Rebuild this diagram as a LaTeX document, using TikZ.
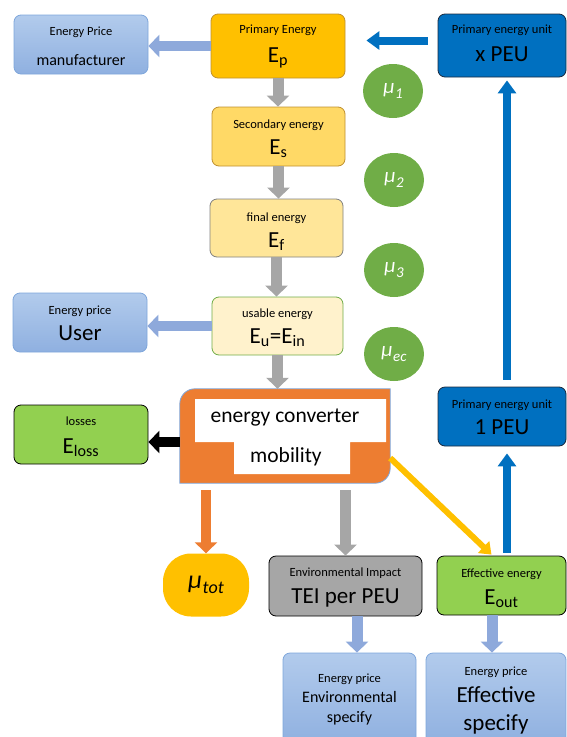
\documentclass[tikz,border=0pt]{standalone}
\usepackage{fontspec}
\setmainfont{Carlito}
\usetikzlibrary{arrows.meta,shapes.geometric}
\definecolor{lbtop}{HTML}{B2CBEC}
\definecolor{lbbot}{HTML}{8FB0E0}
\definecolor{lbbord}{HTML}{7EA6DB}
\definecolor{larrow}{HTML}{8EA9DB}
\definecolor{gold}{HTML}{FFC000}
\definecolor{goldbord}{HTML}{BF9030}
\definecolor{sec}{HTML}{FFD966}
\definecolor{fin}{HTML}{FFE699}
\definecolor{usa}{HTML}{FFF2CC}
\definecolor{usabord}{HTML}{70AD47}
\definecolor{mugreen}{HTML}{70AD47}
\definecolor{pblue}{HTML}{0070C0}
\definecolor{pbord}{HTML}{1B2A3F}
\definecolor{garrow}{HTML}{A6A6A6}
\definecolor{orng}{HTML}{ED7D31}
\definecolor{lgreen}{HTML}{92D050}
\definecolor{gbox}{HTML}{A6A6A6}
\newcommand{\mutxt}[3]{\itshape\fontsize{#1}{#1}\selectfont μ\kern0.5pt\raisebox{-0.2em}{\fontsize{#2}{#2}\selectfont #3}}
\tikzset{
  bx/.style={draw, rounded corners=7pt, line width=0.8pt, inner sep=0pt},
  lb/.style={bx, draw=lbbord, top color=lbtop, bottom color=lbbot},
  sm/.style={inner sep=0pt, anchor=base, font=\fontsize{12.5}{14}\selectfont},
  md/.style={inner sep=0pt, anchor=base, font=\fontsize{16}{18}\selectfont},
  bg/.style={inner sep=0pt, anchor=base, font=\fontsize{23}{26}\selectfont},
  cv/.style={inner sep=0pt, anchor=base, font=\fontsize{21.5}{24}\selectfont},
  mu/.style={ellipse, fill=mugreen, minimum width=60pt, minimum height=54pt, inner sep=0pt, text=white},
  blockarr/.style={draw=#1, line width=11pt, -{Triangle[width=22pt,length=11pt]}},
  thinarr/.style={draw=#1, line width=8pt, -{Triangle[width=18pt,length=13pt]}},
}
\begin{document}
\begin{tikzpicture}[x=1pt,y=-1pt]
\useasboundingbox (0,0) rectangle (566,737);

% boxes
\node[lb, minimum width=134pt, minimum height=59pt] (man) at (81,44.5) {};
\node[sm] (man-a) at (81,35) {Energy Price};
\node[md] (man-b) at (81,65) {manufacturer};

\node[bx, fill=gold, draw=goldbord, minimum width=134pt, minimum height=64pt] (pe) at (278,46) {};
\node[sm] (pe-a) at (278,33) {Primary Energy};
\node[bg] (pe-b) at (278,62) {E\textsubscript{p}};

\node[bx, fill=pblue, draw=pbord, minimum width=128pt, minimum height=63pt] (xpeu) at (502,45.5) {};
\node[sm] (xpeu-a) at (502,33) {Primary energy unit};
\node[bg] (xpeu-b) at (502,61) {x PEU};

\node[bx, fill=sec, draw=goldbord, minimum width=133pt, minimum height=59pt] (se) at (278.5,136.5) {};
\node[sm] (se-a) at (278.5,128) {Secondary energy};
\node[bg] (se-b) at (278.5,154) {E\textsubscript{s}};

\node[bx, fill=fin, draw=gray, minimum width=133pt, minimum height=58pt] (fe) at (276.5,228) {};
\node[sm] (fe-a) at (276.5,221) {final energy};
\node[bg] (fe-b) at (276.5,247) {E\textsubscript{f}};

\node[bx, fill=usa, draw=usabord, minimum width=131pt, minimum height=58pt] (ue) at (277.5,326) {};
\node[sm] (ue-a) at (277.5,317) {usable energy};
\node[bg] (ue-b) at (277.5,343) {E\textsubscript{u}=E\textsubscript{in}};

\node[lb, minimum width=134pt, minimum height=59pt] (user) at (80,322.5) {};
\node[sm] (user-a) at (80,314) {Energy price};
\node[bg] (user-b) at (80,340) {User};

% energy converter
\node[minimum width=210pt, minimum height=94pt, inner sep=0pt] (conv) at (285,436) {};
\draw[fill=orng, draw=lbbord, line width=0.8pt] (conv.south west) -- ([yshift=-15pt]conv.north west)
  arc[start angle=180, end angle=90, radius=15pt] -- (conv.north east)
  -- ([yshift=15pt]conv.south east) arc[start angle=0, end angle=-90, radius=15pt] -- cycle;
\fill[white] (195,399) -- (386,399) -- (386,442) -- (350,442) -- (350,474) -- (234,474) -- (234,442) -- (195,442) -- cycle;
\node[cv] (conv-a) at (285,422) {energy converter};
\node[cv] (conv-b) at (286,462) {mobility};

\node[bx, fill=lgreen, draw=black, minimum width=134pt, minimum height=59pt] (loss) at (81,434.5) {};
\node[sm] (loss-a) at (81,425) {losses};
\node[bg] (loss-b) at (81,453) {E\textsubscript{loss}};

\node[bx, fill=pblue, draw=pbord, minimum width=128pt, minimum height=59pt] (peu1) at (502,416.5) {};
\node[sm] (peu1-a) at (502,408) {Primary energy unit};
\node[bg] (peu1-b) at (502,434) {1 PEU};

\node[fill=gold, rounded corners=28pt, minimum width=86pt, minimum height=63pt, inner sep=0pt] (mutot) at (206,585) {\mutxt{26}{18}{tot}};

\node[bx, fill=gbox, draw=black, minimum width=153pt, minimum height=60pt] (env) at (345.5,586) {};
\node[sm] (env-a) at (345.5,576) {Environmental Impact};
\node[bg] (env-b) at (345.5,603) {TEI per PEU};

\node[bx, fill=lgreen, draw=black, minimum width=129pt, minimum height=59pt] (eff) at (501.5,585.5) {};
\node[sm] (eff-a) at (501.5,577) {Effective energy};
\node[bg] (eff-b) at (501.5,604) {E\textsubscript{out}};

\node[lb, minimum width=133pt, minimum height=92pt] (penv) at (349.5,699) {};
\node[sm] (penv-a) at (349.5,682) {Energy price};
\node[md] (penv-b) at (349.5,702) {Environmental};
\node[md] (penv-c) at (349.5,722) {specify};

\node[lb, minimum width=140pt, minimum height=92pt] (peff) at (496,699) {};
\node[sm] (peff-a) at (496,675) {Energy price};
\node[bg] (peff-b) at (496,702) {Effective};
\node[bg] (peff-c) at (496,730) {specify};

% mu circles
\node[mu] (m1) at (393,91) {\mutxt{21}{15}{1}};
\node[mu] (m2) at (394,180) {\mutxt{21}{15}{2}};
\node[mu] (m3) at (394,270) {\mutxt{21}{15}{3}};
\node[mu] (mec) at (394,354) {\mutxt{21}{15}{ec}};

% arrows
\draw[blockarr=garrow] (pe.south) -- (pe.south |- se.north);
\draw[blockarr=garrow] (se.south) -- (se.south |- fe.north);
\draw[blockarr=garrow] (fe.south) -- (fe.south |- ue.north);
\draw[blockarr=garrow] (ue.south) -- (ue.south |- conv.north);

\draw[blockarr=larrow, line width=10pt] (pe.west) -- (pe.west -| man.east);
\draw[blockarr=larrow, line width=10pt] (ue.west) -- (ue.west -| user.east);

\draw[thinarr=pblue, shorten <=10pt, shorten >=21pt] ([yshift=5pt]xpeu.west) -- ([yshift=5pt]xpeu.west -| pe.east);

\draw[blockarr=black, line width=10pt] ([yshift=-6pt]conv.west) -- ([yshift=-6pt]conv.west -| loss.east);

\draw[blockarr=orng, line width=10pt] ([yshift=-7pt]conv.south -| mutot.north) -- (mutot.north);
\draw[blockarr=garrow] ([yshift=-7pt]conv.south -| env.north) -- (env.north);
\draw[draw=gold, line width=6pt, -{Triangle[width=16pt,length=11pt]}] ([yshift=-22pt]conv.east) -- ([xshift=-10pt, yshift=1pt]eff.north);

\draw[thinarr=pblue, shorten >=7pt] ([xshift=5.5pt, yshift=3pt]eff.north) -- ([xshift=5.5pt]eff.north |- peu1.south);
\draw[thinarr=pblue, shorten <=7pt, shorten >=3pt] ([xshift=5pt]peu1.north) -- ([xshift=5pt]peu1.north |- xpeu.south);

\draw[blockarr=larrow] ([xshift=11.5pt]env.south) -- ([xshift=11.5pt]env.south |- penv.north);
\draw[blockarr=larrow] ([xshift=-9.5pt]eff.south) -- ([xshift=-9.5pt]eff.south |- peff.north);
\end{tikzpicture}
\end{document}
